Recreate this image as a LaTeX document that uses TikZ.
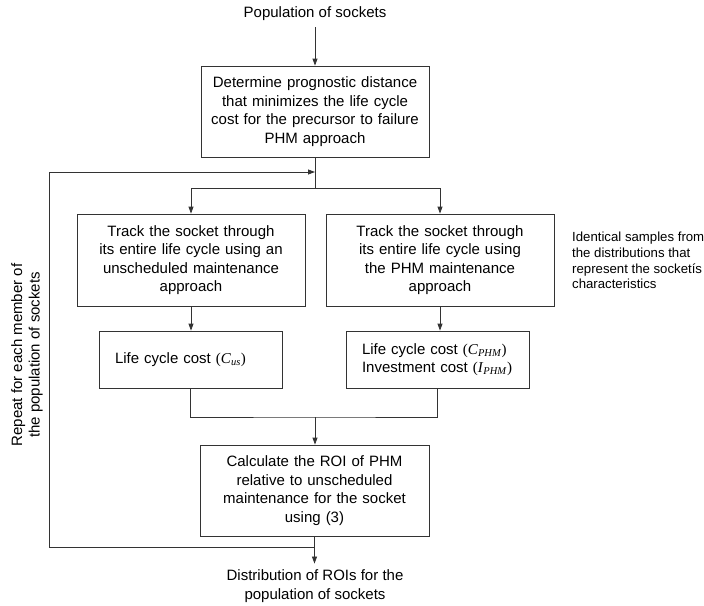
\documentclass[tikz,border=0pt]{standalone}
\usepackage{fontspec}
\setmainfont{Liberation Sans}
\newfontfamily\serifmath{Liberation Serif}
\usetikzlibrary{arrows.meta}
% cost symbol in serif italic, e.g. (C_us)
\newcommand{\costsym}[2]{{\serifmath(\textit{#1}\textsubscript{\textit{#2}})}}
\begin{document}
\begin{tikzpicture}[x=1pt,y=-1pt,
  ln/.style={draw=black!80, line width=0.8pt},
  arr/.style={ln, -{Triangle[length=7pt,width=5pt]}},
  txt/.style={font=\fontsize{15}{18.5}\selectfont},
  box/.style={txt, ln, rectangle, align=center, inner xsep=4pt, inner ysep=0pt,
              text width=220pt, minimum height=91pt},
  costbox/.style={txt, ln, rectangle, align=left, inner xsep=16pt, inner ysep=0pt,
              text width=151pt, minimum height=57pt},
  lbl/.style={txt, align=center, inner xsep=0pt, inner ysep=6pt},
  note/.style={font=\fontsize{13.2}{15.6}\selectfont, align=left, inner sep=0pt},
  side/.style={font=\fontsize{15}{17.5}\selectfont, align=center, inner sep=0pt}]
\useasboundingbox (0,0) rectangle (704,605);

% boxes and labels
\node[lbl] (src) at (315,14) {Population of sockets};
\node[box] (det) at (315,111.5) {Determine prognostic distance\\ that minimizes the life cycle\\ cost for the precursor to failure\\ PHM approach};
\node[box, minimum height=92pt] (trkU) at (191,260) {Track the socket through\\ its entire life cycle using an\\ unscheduled maintenance\\ approach};
\node[box, minimum height=92pt] (trkP) at (440,260) {Track the socket through\\ its entire life cycle using\\ the PHM maintenance\\ approach};
\node[costbox] (cU) at (190.5,359.5) {Life~cycle~cost~\costsym{C}{us}};
\node[costbox] (cP) at (437.5,359.5) {Life~cycle~cost~\costsym{C}{PHM}\\ Investment~cost~\costsym{I}{PHM}};
\node[box, text width=221pt] (roi) at (314.5,490.5) {Calculate the ROI of PHM\\ relative to unscheduled\\ maintenance for the socket\\ using (3)};
\node[lbl] (dist) at (315,586) {Distribution of ROIs for the\\ population of sockets};
\node[note, anchor=west] (samp) at (572,260.5) {Identical samples from\\ the distributions that\\ represent the socket\'{\i}s\\ characteristics};
\node[side, rotate=90] (rep) at (27,355) {Repeat for each member of\\ the population of sockets};

% junction points
\coordinate (fork) at (315,188);
\coordinate (merge) at (315,417);
\coordinate (loopT) at (49,172);
\coordinate (loopB) at (49,547);

% connectors
\draw[arr] (src.south) -- (det.north);
\draw[ln] (det.south) -- (fork);
\draw[arr] (fork) -| (trkU.north);
\draw[arr] (fork) -| (trkP.north);
\draw[arr] (trkU.south) -- (trkU.south |- cU.north);
\draw[arr] (trkP.south) -- (trkP.south |- cP.north);
\draw[ln] (cU.south) |- (merge) -| (cP.south);
\draw[arr] (merge) -- (merge |- roi.north);
\draw[arr] (roi.south) -- (roi.south |- dist.north);
\draw[arr] (roi.south |- loopB) -- (loopB) -- (loopT) -- (det.south |- loopT);
\end{tikzpicture}
\end{document}
